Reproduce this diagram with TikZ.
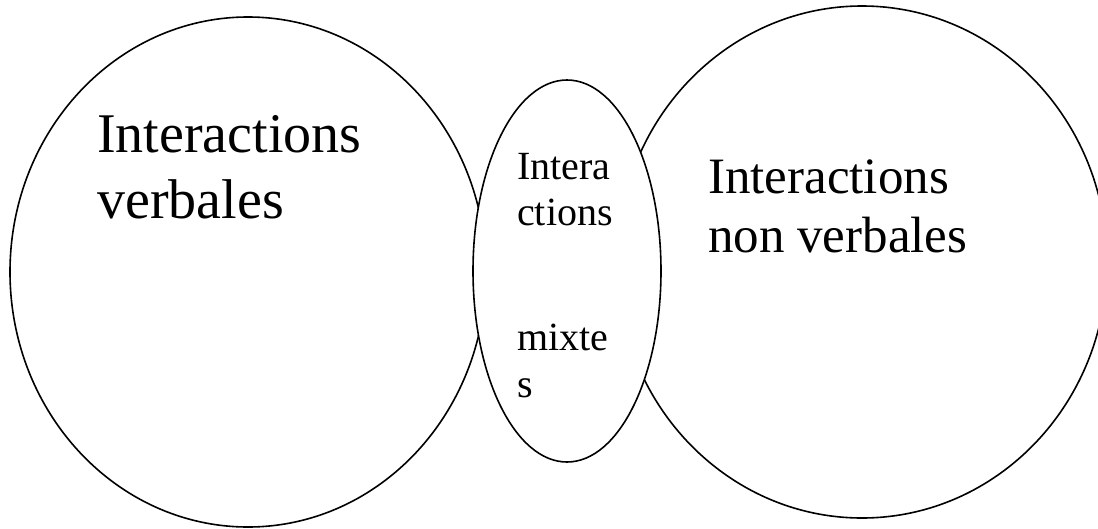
\documentclass[tikz,border=0pt]{standalone}
\usepackage{fontspec}
\setmainfont{Liberation Serif}
\usetikzlibrary{shapes.geometric}
\begin{document}
\begin{tikzpicture}[x=1pt,y=-1pt,
  ring/.style={draw=black,line width=1.6pt,fill=white,ellipse,inner sep=0pt},
  lbl/.style={anchor=base west,inner sep=0pt,text=black}]
\useasboundingbox (0,0) rectangle (1098,528);
\node[ring,minimum width=476pt,minimum height=510pt] (verb) at (248,272) {};
\node[ring,minimum width=490pt,minimum height=512pt] (nonverb) at (862,262) {};
\node[ring,minimum width=188pt,minimum height=382pt] (mix) at (567,271) {};
% left text
\node[lbl,font=\fontsize{56}{66}\selectfont] (v1) at (97,152) {Interactions};
\node[lbl,font=\fontsize{56}{66}\selectfont] (v2) at (97,218) {verbales};
% right text
\node[lbl,font=\fontsize{51}{59}\selectfont] (n1) at (708,193) {Interactions};
\node[lbl,font=\fontsize{51}{59}\selectfont] (n2) at (708,252) {non verbales};
% middle text
\node[lbl,font=\fontsize{40}{46}\selectfont] (m1) at (517,179) {Intera};
\node[lbl,font=\fontsize{40}{46}\selectfont] (m2) at (517,225) {ctions};
\node[lbl,font=\fontsize{40}{46}\selectfont] (m3) at (517,350) {mixte};
\node[lbl,font=\fontsize{40}{46}\selectfont] (m4) at (517,397) {s};
\end{tikzpicture}
\end{document}
